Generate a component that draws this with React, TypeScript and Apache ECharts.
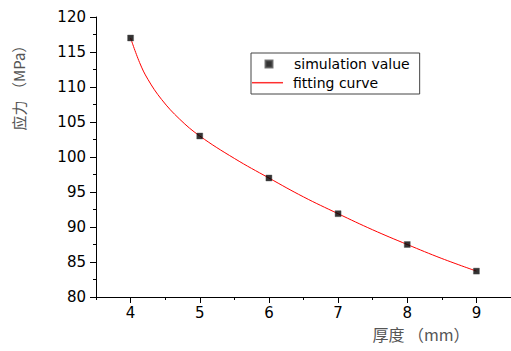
import React, { useEffect, useRef } from "react";
import * as echarts from "echarts";

// data
const thickness = [4, 5, 6, 7, 8, 9];
const simulationValue = [117, 103, 97, 91.9, 87.5, 83.7];
const fitThickness = [4, 4.13, 4.25, 4.45, 4.71, 5, 5.5, 6, 6.5, 7, 7.5, 8, 8.5, 9];
const fitStress = [117, 113.5, 111.1, 108.2, 105.4, 103, 99.8, 97, 94.3, 91.9, 89.6, 87.5, 85.5, 83.7];
const xTickLabels = [4, 5, 6, 7, 8, 9];
const xRange = [3.5, 9.5];
const yRange = [80, 120];
const yStep = 5;

export default function App() {
  const ref = useRef<HTMLDivElement>(null);
  useEffect(() => {
    if (!ref.current) return;
    const chart = echarts.init(ref.current, undefined, { renderer: "svg" });
    const latin = "DejaVu Sans";
    const cjk = "'Noto Sans CJK SC', sans-serif";
    chart.setOption({
      animation: false,
      backgroundColor: "#fff",
      grid: { left: 96, top: 17, bottom: 54, right: -2.6, containLabel: false },
      legend: [
        {
          orient: "vertical",
          left: 251,
          top: 53,
          itemWidth: 7,
          itemHeight: 7,
          padding: [4, 10, 23, 13.5],
          borderColor: "#444",
          borderWidth: 1,
          selectedMode: false,
          textStyle: { fontFamily: latin, fontSize: 14, color: "#000", padding: [0, 0, 0, 16.5] },
          data: [{ name: "simulation value", icon: "rect" }],
        },
        {
          orient: "vertical",
          left: 251,
          top: 75.7,
          itemWidth: 31,
          itemHeight: 1.5,
          padding: [0, 0, 0, 1],
          borderWidth: 0,
          selectedMode: false,
          textStyle: { fontFamily: latin, fontSize: 14, color: "#000", padding: [0, 0, 0, 5] },
          data: [{ name: "fitting curve", icon: "rect" }],
        },
      ],
      xAxis: [
        {
          type: "value",
          min: xRange[0],
          max: xRange[1],
          interval: 0.5,
          position: "bottom",
          axisLine: { onZero: false, lineStyle: { color: "#000", width: 1 } },
          axisTick: { inside: false, length: 6, customValues: xTickLabels, lineStyle: { color: "#000" } },
          axisLabel: { customValues: xTickLabels, fontFamily: latin, fontSize: 15, color: "#000", margin: 8 },
          splitLine: { show: false },
          name: "厚度 （mm）",
          nameLocation: "middle",
          nameGap: 29,
          nameTextStyle: { fontFamily: cjk, fontSize: 16, color: "#555", padding: [0, 0, 0, 235] },
        },
        {
          type: "value",
          min: xRange[0],
          max: xRange[1],
          interval: 0.5,
          position: "bottom",
          axisLine: { show: false, onZero: false },
          axisTick: { inside: false, length: 3, lineStyle: { color: "#000" } },
          axisLabel: { show: false },
          splitLine: { show: false },
        },
      ],
      yAxis: {
        type: "value",
        min: yRange[0],
        max: yRange[1],
        interval: yStep,
        axisLine: { show: true, onZero: false, lineStyle: { color: "#000", width: 1 } },
        axisTick: { show: true, inside: false, length: 6, lineStyle: { color: "#000" } },
        minorTick: { show: true, splitNumber: 2, length: 3, lineStyle: { color: "#000" } },
        axisLabel: { fontFamily: latin, fontSize: 15, color: "#000", margin: 10 },
        splitLine: { show: false },
        name: "应力 （MPa）",
        nameLocation: "middle",
        nameGap: 70,
        nameRotate: 90,
        nameTextStyle: { fontFamily: cjk, fontSize: 15, color: "#555", padding: [0, 0, 0, 146] },
      },
      series: [
        {
          name: "fitting curve",
          type: "line",
          xAxisIndex: 0,
          data: fitThickness.map((x, i) => [x, fitStress[i]]),
          smooth: 0.4,
          symbol: "none",
          showSymbol: false,
          lineStyle: { color: "#ff0000", width: 1 },
          itemStyle: { color: "#ff3030" },
          z: 2,
        },
        {
          name: "simulation value",
          type: "scatter",
          xAxisIndex: 0,
          data: thickness.map((x, i) => [x, simulationValue[i]]),
          symbol: "rect",
          symbolSize: 6,
          itemStyle: { color: "#000", borderColor: "#555", borderWidth: 0.5 },
          z: 3,
        },
      ],
    });
    return () => chart.dispose();
  }, []);
  return <div ref={ref} style={{ position: "fixed", left: 0, top: 0, width: 511, height: 351 }} />;
}
